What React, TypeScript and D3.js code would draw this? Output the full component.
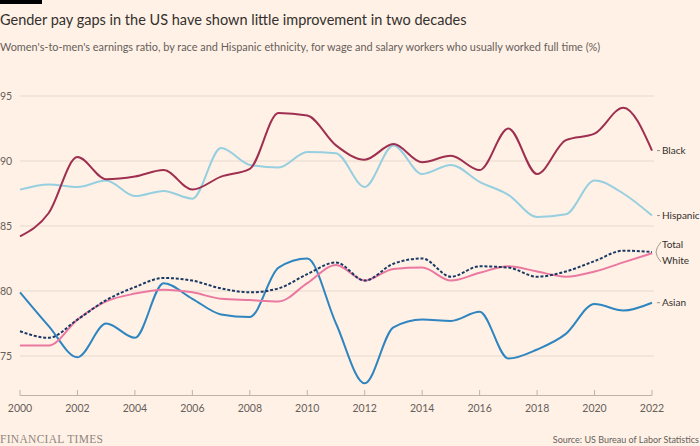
import * as d3 from 'd3';

const years = d3.range(2000, 2023);
const black = [84.2, 86.0, 90.3, 88.6, 88.8, 89.3, 87.8, 88.8, 89.4, 93.7, 93.5, 91.2, 90.1, 91.3, 89.9, 90.4, 89.3, 92.5, 89.0, 91.6, 92.1, 94.1, 90.8];
const hispanic = [87.8, 88.2, 88.0, 88.5, 87.3, 87.7, 87.1, 91.0, 89.7, 89.5, 90.7, 90.6, 88.0, 91.2, 89.0, 89.7, 88.4, 87.4, 85.7, 85.9, 88.5, 87.5, 85.8];
const total = [76.9, 76.4, 77.8, 79.3, 80.3, 81.0, 80.8, 80.2, 79.9, 80.2, 81.3, 82.2, 80.8, 82.1, 82.5, 81.1, 81.9, 81.8, 81.1, 81.5, 82.3, 83.1, 83.0];
const white = [75.8, 75.8, 77.8, 79.2, 79.8, 80.1, 79.9, 79.4, 79.3, 79.2, 80.6, 82.0, 80.8, 81.7, 81.8, 80.8, 81.4, 81.9, 81.5, 81.1, 81.5, 82.2, 82.9];
const asian = [79.9, 77.3, 74.9, 77.5, 76.4, 80.6, 79.4, 78.2, 78.0, 81.8, 82.5, 77.5, 72.9, 77.2, 77.8, 77.7, 78.4, 74.8, 75.5, 76.7, 79.0, 78.5, 79.1];
const yTicks = [75, 80, 85, 90, 95];
const xTicks = d3.range(2000, 2023, 2);

const W = 700;
const H = 446;
const font = 'Lato, "Open Sans", sans-serif';

export default function App() {
  const x = d3.scaleLinear([2000, 2022], [20, 652]);
  const y = d3.scaleLinear([75, 95], [356, 96]);
  const line = d3
    .line<number>()
    .x((d, i) => x(years[i]))
    .y((d) => y(d))
    .curve(d3.curveMonotoneX);

  const series = [
    { name: 'Hispanic', data: hispanic, color: '#96cfe0', dash: undefined },
    { name: 'Black', data: black, color: '#9e2f50', dash: undefined },
    { name: 'Asian', data: asian, color: '#2e85c0', dash: undefined },
    { name: 'White', data: white, color: '#eb78a0', dash: undefined },
    { name: 'Total', data: total, color: '#1a3a66', dash: '3,1.8' },
  ];

  const last = (a: number[]) => y(a[a.length - 1]);
  const xEnd = x(2022);

  return (
    <svg width={W} height={H} style={{ position: 'absolute', left: 0, top: 0, background: '#fff1e5' }}>
      <rect x={0} y={0} width={W} height={H} fill="#fff1e5" />
      <rect x={0} y={0} width={42} height={4} fill="#000" />
      <text x={0} y={25} fontFamily={font} fontSize={14.5} fill="#33302e">
        Gender pay gaps in the US have shown little improvement in two decades
      </text>
      <text x={0} y={51} fontFamily={font} fontSize={10.9} fill="#66605c">
        Women's-to-men's earnings ratio, by race and Hispanic ethnicity, for wage and salary workers who usually worked full time (%)
      </text>

      {yTicks.map((t) => (
        <g key={t}>
          <line x1={20} x2={654} y1={y(t)} y2={y(t)} stroke="#e6d9ce" strokeWidth={1} />
          <text x={0} y={y(t)} dy="0.35em" fontFamily={font} fontSize={10.5} fill="#66605c">
            {t}
          </text>
        </g>
      ))}

      <line x1={x(2000)} x2={x(2022)} y1={395.5} y2={395.5} stroke="#bfb3a8" strokeWidth={1} />
      {xTicks.map((t) => (
        <g key={t}>
          <line x1={x(t)} x2={x(t)} y1={390} y2={395.5} stroke="#bfb3a8" strokeWidth={1} />
          <text x={x(t)} y={408} dy="0.35em" textAnchor="middle" fontFamily={font} fontSize={10.5} fill="#66605c">
            {t}
          </text>
        </g>
      ))}

      {series.map((s) => (
        <path
          key={s.name}
          d={line(s.data) ?? ''}
          fill="none"
          stroke={s.color}
          strokeWidth={2}
          strokeDasharray={s.dash}
          strokeLinejoin="round"
        />
      ))}

      {[
        { name: 'Black', yy: last(black) },
        { name: 'Hispanic', yy: last(hispanic) },
        { name: 'Asian', yy: last(asian) },
      ].map((l) => (
        <g key={l.name}>
          <line x1={xEnd + 5} x2={xEnd + 8} y1={l.yy} y2={l.yy} stroke="#999088" strokeWidth={1} />
          <text x={xEnd + 10} y={l.yy} dy="0.35em" fontFamily={font} fontSize={10} fill="#33302e">
            {l.name}
          </text>
        </g>
      ))}
      <path
        d={`M${xEnd + 9},${last(total) - 10} Q${xEnd + 4},${last(total) - 4} ${xEnd + 4},${last(total)} Q${xEnd + 4},${last(total) + 4} ${xEnd + 9},${last(total) + 10}`}
        fill="none"
        stroke="#999088"
        strokeWidth={0.9}
      />
      <text x={xEnd + 10} y={last(total) - 8} dy="0.35em" fontFamily={font} fontSize={10} fill="#33302e">
        Total
      </text>
      <text x={xEnd + 10} y={last(total) + 8} dy="0.35em" fontFamily={font} fontSize={10} fill="#33302e">
        White
      </text>

      <text x={0} y={443} fontFamily='"Liberation Serif", "DejaVu Serif", serif' fontSize={11.5} fill="#908680" letterSpacing={0.3}>
        FINANCIAL TIMES
      </text>
      <text x={699} y={443} textAnchor="end" fontFamily={font} fontSize={9} fill="#66605c">
        Source: US Bureau of Labor Statistics
      </text>
    </svg>
  );
}
